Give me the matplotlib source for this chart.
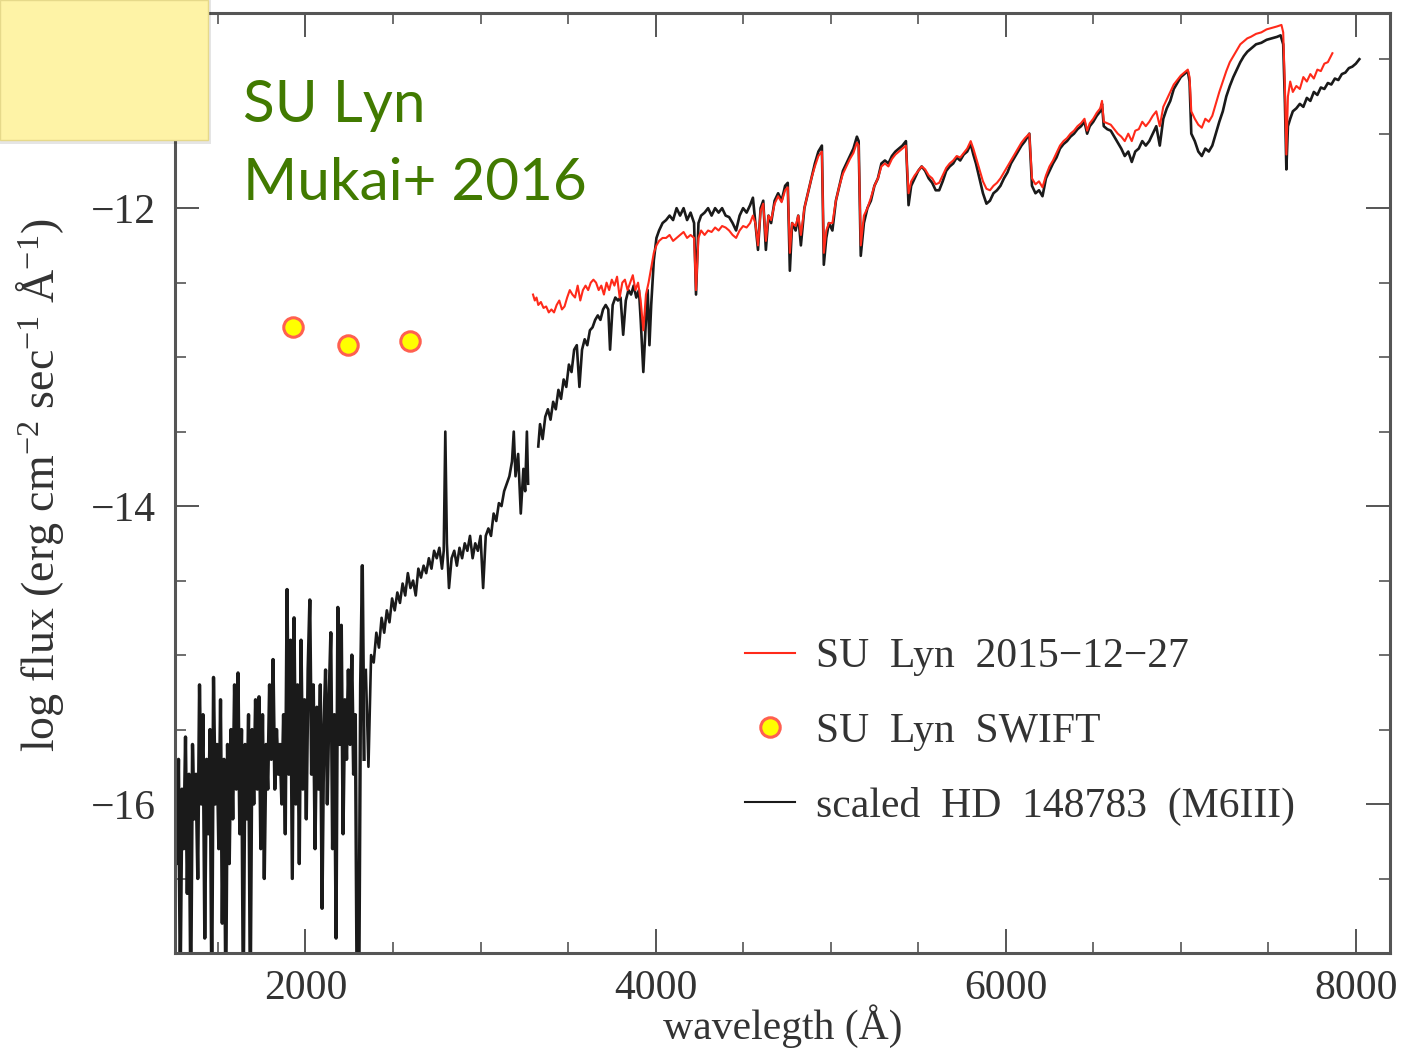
import numpy as np
import matplotlib
matplotlib.use("Agg")
import matplotlib.pyplot as plt
from matplotlib.patches import Rectangle
from matplotlib.lines import Line2D
from matplotlib.ticker import MultipleLocator

plt.rcParams['font.family'] = ['Liberation Serif', 'DejaVu Serif']
plt.rcParams['mathtext.fontset'] = 'custom'
plt.rcParams['mathtext.rm'] = 'Liberation Serif'
plt.rcParams['mathtext.it'] = 'Liberation Serif'

# --- data -------------------------------------------------------------
# HD 148783 template, noisy UV part (evenly sampled 1255-2335 A)
uv_flux = [
    -15.6, -16.4, -15.7, -17.2, -15.9, -16.3, -15.55, -16.6, -15.8, -17.3,
    -15.6, -16.1, -15.8, -16.5, -15.2, -16.0, -15.4, -16.9, -15.7, -16.2,
    -15.5, -17.3, -15.15, -16.0, -15.6, -16.3, -15.3, -16.8, -15.7, -17.3,
    -15.6, -16.4, -15.5, -16.1, -15.2, -15.9, -15.12, -16.2, -15.5, -17.3,
    -15.6, -16.1, -15.4, -17.3, -15.5, -16.0, -15.3, -15.9, -15.28, -16.3,
    -15.4, -16.5, -15.6, -15.9, -15.2, -15.7, -15.03, -15.9, -15.5, -15.8,
    -15.6, -16.0, -15.4, -16.2, -14.56, -15.8, -14.9, -16.5, -14.75, -16.0,
    -15.2, -16.4, -14.9, -15.9, -15.3, -16.1, -15.1, -14.63, -15.8, -15.2,
    -16.3, -15.35, -15.9, -15.2, -16.7, -15.5, -15.1, -16.0, -15.3, -14.85,
    -16.3, -15.4, -16.9, -14.68, -15.6, -14.8, -16.2, -15.3, -15.7, -15.1,
    -15.6, -15.0, -15.8, -15.4, -17.3, -17.3, -15.2, -14.4, -15.7,
]
uv_wave = np.linspace(1255, 2335, len(uv_flux))

# HD 148783 template, optical part (wavelength, log flux); nan marks a gap
star_pts = [
    (2345, -15.1), (2360, -15.75), (2375, -15.0), (2390, -15.05), (2405, -14.85),
    (2420, -14.95), (2435, -14.75), (2450, -14.85), (2465, -14.7), (2480, -14.78),
    (2495, -14.62), (2510, -14.7), (2525, -14.58), (2540, -14.65), (2555, -14.52),
    (2570, -14.6), (2585, -14.45), (2600, -14.55), (2615, -14.5), (2630, -14.6),
    (2645, -14.42), (2660, -14.48), (2675, -14.4), (2690, -14.45), (2705, -14.35),
    (2720, -14.42), (2735, -14.3), (2750, -14.35), (2765, -14.28), (2780, -14.42),
    (2790, -14.3), (2799, -13.5), (2808, -14.25), (2820, -14.55), (2835, -14.35),
    (2850, -14.3), (2865, -14.4), (2880, -14.28), (2895, -14.35), (2910, -14.25),
    (2925, -14.3), (2940, -14.2), (2955, -14.35), (2970, -14.25), (2985, -14.3),
    (3000, -14.2), (3015, -14.55), (3030, -14.2), (3045, -14.15), (3060, -14.2),
    (3075, -14.05), (3090, -14.1), (3105, -13.98), (3120, -14.0), (3135, -13.9),
    (3150, -13.85), (3165, -13.8), (3180, -13.7), (3190, -13.5), (3200, -13.8),
    (3215, -13.65), (3230, -14.05), (3245, -13.75), (3255, -13.9), (3265, -13.5),
    (3272, -13.85), (3300, np.nan),
    (3330, -13.6), (3340, -13.45), (3355, -13.55), (3370, -13.4), (3385, -13.35),
    (3400, -13.42), (3415, -13.3), (3430, -13.35), (3445, -13.22), (3460, -13.28),
    (3475, -13.15), (3490, -13.2), (3505, -13.05), (3520, -13.1), (3535, -12.95),
    (3550, -12.92), (3565, -13.2), (3580, -12.95), (3595, -12.88), (3610, -12.92),
    (3625, -12.82), (3640, -12.8), (3655, -12.75), (3670, -12.72), (3685, -12.75),
    (3700, -12.68), (3715, -12.65), (3730, -12.68), (3740, -12.95), (3755, -12.65),
    (3770, -12.6), (3785, -12.62), (3800, -12.6), (3815, -12.85), (3830, -12.62),
    (3845, -12.55), (3860, -12.58), (3875, -12.52), (3890, -12.6), (3905, -12.55),
    (3915, -12.75), (3930, -13.1), (3945, -12.75), (3955, -12.55), (3965, -12.92),
    (3975, -12.65), (3990, -12.35), (4005, -12.2), (4020, -12.15), (4040, -12.1),
    (4060, -12.08), (4080, -12.05), (4100, -12.08), (4120, -12.0), (4140, -12.05),
    (4160, -12.0), (4180, -12.08), (4200, -12.03), (4220, -12.1), (4231, -12.58),
    (4245, -12.1), (4260, -12.05), (4280, -12.03), (4300, -12.0), (4320, -12.05),
    (4340, -12.0), (4360, -12.03), (4380, -12.0), (4400, -12.05), (4420, -12.06),
    (4440, -12.1), (4460, -12.15), (4480, -12.05), (4500, -12.0), (4520, -12.03),
    (4540, -11.98), (4556, -11.93), (4570, -12.1), (4585, -12.28), (4600, -12.0),
    (4615, -11.95), (4630, -12.28), (4645, -12.05), (4660, -12.1), (4680, -11.95),
    (4700, -11.9), (4720, -11.95), (4740, -11.85), (4755, -11.83), (4767, -12.42),
    (4780, -12.1), (4800, -12.15), (4815, -12.05), (4830, -12.25), (4850, -12.0),
    (4870, -11.9), (4890, -11.8), (4910, -11.7), (4930, -11.62), (4950, -11.58),
    (4961, -12.38), (4975, -12.2), (4990, -12.1), (5010, -12.15), (5030, -11.95),
    (5050, -11.85), (5070, -11.75), (5090, -11.7), (5110, -11.65), (5130, -11.6),
    (5150, -11.52), (5160, -11.55), (5172, -12.32), (5190, -12.1), (5210, -12.0),
    (5230, -11.95), (5250, -11.85), (5270, -11.8), (5290, -11.7), (5310, -11.68),
    (5330, -11.7), (5350, -11.65), (5370, -11.62), (5390, -11.6), (5410, -11.58),
    (5430, -11.55), (5445, -11.98), (5460, -11.85), (5480, -11.8), (5500, -11.75),
    (5520, -11.72), (5540, -11.75), (5560, -11.8), (5580, -11.83), (5600, -11.88),
    (5620, -11.88), (5640, -11.82), (5660, -11.75), (5680, -11.72), (5700, -11.7),
    (5720, -11.66), (5740, -11.68), (5760, -11.64), (5780, -11.62), (5800, -11.57),
    (5815, -11.64), (5830, -11.7), (5850, -11.8), (5870, -11.9), (5890, -11.97),
    (5910, -11.95), (5930, -11.9), (5950, -11.88), (5970, -11.85), (5990, -11.8),
    (6010, -11.76), (6030, -11.7), (6050, -11.66), (6070, -11.62), (6090, -11.58),
    (6110, -11.55), (6135, -11.5), (6150, -11.85), (6170, -11.9), (6190, -11.88),
    (6210, -11.92), (6230, -11.8), (6250, -11.75), (6270, -11.7), (6290, -11.66),
    (6310, -11.6), (6330, -11.57), (6350, -11.55), (6370, -11.52), (6390, -11.5),
    (6410, -11.47), (6430, -11.45), (6450, -11.42), (6465, -11.5), (6480, -11.45),
    (6500, -11.42), (6520, -11.38), (6540, -11.35), (6550, -11.3), (6560, -11.45),
    (6580, -11.47), (6600, -11.48), (6620, -11.52), (6640, -11.56), (6660, -11.6),
    (6680, -11.65), (6700, -11.62), (6720, -11.69), (6740, -11.62), (6760, -11.6),
    (6780, -11.55), (6800, -11.58), (6820, -11.55), (6840, -11.5), (6860, -11.45),
    (6880, -11.58), (6900, -11.4), (6920, -11.33), (6940, -11.28), (6960, -11.2),
    (6980, -11.16), (7000, -11.12), (7020, -11.1), (7040, -11.08), (7050, -11.15),
    (7060, -11.5), (7080, -11.55), (7100, -11.62), (7120, -11.65), (7140, -11.6),
    (7160, -11.62), (7180, -11.58), (7200, -11.5), (7220, -11.42), (7240, -11.35),
    (7260, -11.25), (7280, -11.18), (7300, -11.12), (7320, -11.07), (7340, -11.02),
    (7360, -10.98), (7380, -10.95), (7400, -10.93), (7430, -10.9), (7460, -10.89),
    (7490, -10.87), (7520, -10.86), (7550, -10.85), (7570, -10.84), (7585, -10.9),
    (7595, -11.3), (7603, -11.74), (7612, -11.45), (7625, -11.4), (7640, -11.35),
    (7660, -11.33), (7680, -11.3), (7700, -11.32), (7720, -11.26), (7740, -11.28),
    (7760, -11.22), (7780, -11.24), (7800, -11.19), (7820, -11.2), (7840, -11.16),
    (7860, -11.17), (7880, -11.13), (7900, -11.14), (7920, -11.1), (7940, -11.09),
    (7960, -11.06), (7980, -11.05), (8000, -11.03), (8020, -11.0),
]

# SU Lyn optical spectrum 2015-12-27
sulyn_pts = [
    (3300, -12.58), (3310, -12.62), (3320, -12.6), (3330, -12.65), (3345, -12.63),
    (3360, -12.67), (3375, -12.66), (3390, -12.7), (3405, -12.68), (3420, -12.7),
    (3435, -12.65), (3450, -12.62), (3465, -12.68), (3480, -12.66), (3495, -12.6),
    (3510, -12.55), (3525, -12.58), (3540, -12.6), (3555, -12.52), (3570, -12.62),
    (3585, -12.55), (3600, -12.52), (3615, -12.55), (3630, -12.5), (3645, -12.48),
    (3660, -12.5), (3675, -12.55), (3690, -12.52), (3705, -12.58), (3720, -12.5),
    (3735, -12.55), (3750, -12.48), (3765, -12.52), (3780, -12.46), (3795, -12.6),
    (3810, -12.5), (3825, -12.48), (3840, -12.55), (3855, -12.5), (3870, -12.45),
    (3885, -12.55), (3900, -12.5), (3915, -12.62), (3930, -12.82), (3945, -12.58),
    (3960, -12.5), (3975, -12.4), (3990, -12.3), (4005, -12.25), (4020, -12.22),
    (4040, -12.2), (4060, -12.2), (4080, -12.18), (4100, -12.22), (4120, -12.2),
    (4140, -12.18), (4160, -12.16), (4180, -12.2), (4200, -12.18), (4220, -12.2),
    (4231, -12.55), (4245, -12.2), (4260, -12.15), (4280, -12.18), (4300, -12.15),
    (4320, -12.16), (4340, -12.13), (4360, -12.15), (4380, -12.12), (4400, -12.13),
    (4420, -12.15), (4440, -12.18), (4460, -12.2), (4480, -12.15), (4500, -12.12),
    (4520, -12.13), (4540, -12.1), (4556, -12.05), (4570, -12.1), (4585, -12.25),
    (4600, -12.02), (4615, -11.97), (4630, -12.22), (4645, -12.05), (4660, -12.08),
    (4680, -11.97), (4700, -11.92), (4720, -11.96), (4740, -11.88), (4755, -11.86),
    (4767, -12.3), (4780, -12.1), (4800, -12.12), (4815, -12.05), (4830, -12.18),
    (4850, -12.0), (4870, -11.9), (4890, -11.8), (4910, -11.72), (4930, -11.65),
    (4950, -11.62), (4961, -12.3), (4975, -12.15), (4990, -12.1), (5010, -12.1),
    (5030, -11.95), (5050, -11.85), (5070, -11.77), (5090, -11.72), (5110, -11.67),
    (5130, -11.63), (5150, -11.56), (5160, -11.58), (5172, -12.25), (5190, -12.05),
    (5210, -12.0), (5230, -11.93), (5250, -11.85), (5270, -11.8), (5290, -11.72),
    (5310, -11.7), (5330, -11.72), (5350, -11.67), (5370, -11.64), (5390, -11.62),
    (5410, -11.6), (5430, -11.58), (5445, -11.9), (5460, -11.82), (5480, -11.78),
    (5500, -11.75), (5520, -11.72), (5540, -11.74), (5560, -11.78), (5580, -11.8),
    (5600, -11.84), (5620, -11.83), (5640, -11.78), (5660, -11.73), (5680, -11.7),
    (5700, -11.68), (5720, -11.65), (5740, -11.66), (5760, -11.63), (5780, -11.6),
    (5800, -11.55), (5815, -11.6), (5830, -11.66), (5850, -11.74), (5870, -11.82),
    (5890, -11.87), (5910, -11.88), (5930, -11.85), (5950, -11.83), (5970, -11.8),
    (5990, -11.76), (6010, -11.72), (6030, -11.68), (6050, -11.64), (6070, -11.6),
    (6090, -11.56), (6110, -11.53), (6135, -11.5), (6150, -11.8), (6170, -11.84),
    (6190, -11.82), (6210, -11.86), (6230, -11.78), (6250, -11.72), (6270, -11.68),
    (6290, -11.63), (6310, -11.58), (6330, -11.55), (6350, -11.53), (6370, -11.5),
    (6390, -11.48), (6410, -11.45), (6430, -11.43), (6450, -11.4), (6465, -11.48),
    (6480, -11.43), (6500, -11.4), (6520, -11.36), (6540, -11.33), (6550, -11.28),
    (6560, -11.42), (6580, -11.43), (6600, -11.44), (6620, -11.47), (6640, -11.5),
    (6660, -11.52), (6680, -11.55), (6700, -11.5), (6720, -11.55), (6740, -11.48),
    (6760, -11.47), (6780, -11.42), (6800, -11.45), (6820, -11.42), (6840, -11.38),
    (6860, -11.35), (6880, -11.45), (6900, -11.32), (6920, -11.27), (6940, -11.22),
    (6960, -11.17), (6980, -11.14), (7000, -11.11), (7020, -11.09), (7040, -11.07),
    (7050, -11.12), (7060, -11.35), (7080, -11.4), (7100, -11.44), (7120, -11.46),
    (7140, -11.4), (7160, -11.42), (7180, -11.38), (7200, -11.3), (7220, -11.22),
    (7240, -11.15), (7260, -11.08), (7280, -11.02), (7300, -10.98), (7320, -10.94),
    (7340, -10.9), (7360, -10.88), (7380, -10.86), (7400, -10.85), (7430, -10.83),
    (7460, -10.82), (7490, -10.8), (7520, -10.79), (7550, -10.78), (7575, -10.77),
    (7585, -10.82), (7595, -11.2), (7603, -11.64), (7612, -11.25), (7625, -11.15),
    (7640, -11.22), (7660, -11.18), (7680, -11.2), (7700, -11.12), (7720, -11.15),
    (7740, -11.1), (7760, -11.13), (7780, -11.07), (7800, -11.08), (7820, -11.03),
    (7840, -11.02), (7866, -10.96),
]

# SWIFT UVOT photometry
swift_wave = [1928, 2246, 2600]
swift_flux = [-12.80, -12.92, -12.89]

# --- plot -------------------------------------------------------------
fig = plt.figure(figsize=(14.27, 10.49), dpi=100)
ax = fig.add_axes([175 / 1427, 1 - 953 / 1049, 1215 / 1427, 940 / 1049])

star_w, star_f = np.array(star_pts).T
sulyn_w, sulyn_f = np.array(sulyn_pts).T

ax.plot(uv_wave, uv_flux, color='#1a1a1a', lw=2.4)
ax.plot(star_w, star_f, color='#1a1a1a', lw=1.9)
ax.plot(sulyn_w, sulyn_f, color='#ff2a1a', lw=1.5)
ax.plot(swift_wave, swift_flux, 'o', ms=14, mfc='#ffff00', mec='#ff6050', mew=2.2,
        linestyle='None')

ax.set_xlim(1255, 8195)
ax.set_ylim(-17, -10.69)
ax.xaxis.set_major_locator(MultipleLocator(2000))
ax.xaxis.set_minor_locator(MultipleLocator(500))
ax.yaxis.set_major_locator(MultipleLocator(2))
ax.yaxis.set_minor_locator(MultipleLocator(0.5))
ax.tick_params(which='both', direction='in', top=True, right=True,
               color='#555555', labelcolor='#333333', labelsize=30)
ax.tick_params(which='major', length=17, width=1.4)
ax.tick_params(which='minor', length=8, width=1.2)
ax.tick_params(axis='x', pad=12)
ax.tick_params(axis='y', pad=14)
for sp in ax.spines.values():
    sp.set_color('#555555')
    sp.set_linewidth(2.2)

ax.set_xlabel('wavelegth (Å)', fontsize=30, color='#333333', va='center')
ax.xaxis.set_label_coords(0.5, -(1026 - 953) / 940)
ax.set_ylabel(r'log flux (erg cm$^{-2}$ sec$^{-1}$ Å$^{-1}$)', fontsize=33,
              color='#333333', va='center')
ax.yaxis.set_label_coords(-(175 - 40) / 1215, (953 - 485) / 940)

handles = [
    Line2D([], [], color='#ff2a1a', lw=1.5),
    Line2D([], [], marker='o', ms=14, mfc='#ffff00', mec='#ff6050', mew=2.2,
           linestyle='None'),
    Line2D([], [], color='#1a1a1a', lw=1.5),
]
labels = ['SU  Lyn  2015−12−27', 'SU  Lyn  SWIFT', 'scaled  HD  148783  (M6III)']
ax.legend(handles, labels, loc='upper left',
          bbox_to_anchor=((745 - 175) / 1215, (953 - 638) / 940),
          frameon=False, fontsize=30, handlelength=1.2, handletextpad=0.5,
          labelspacing=0.86, borderpad=0, borderaxespad=0, labelcolor='#333333')

# sticky note in the corner
fig.patches.append(Rectangle((0, 1 - 144 / 1049), 211 / 1427, 144 / 1049,
                             transform=fig.transFigure, facecolor='#000000',
                             alpha=0.10, edgecolor='none', zorder=9))
fig.patches.append(Rectangle((0, 1 - 140 / 1049), 208 / 1427, 140 / 1049,
                             transform=fig.transFigure, facecolor='#fef3a6',
                             edgecolor='#e6d98a', lw=1, zorder=10))

fig.text(243 / 1427, 1 - 122 / 1049, 'SU Lyn', fontsize=42, family='Lato',
         color='#417a00', va='baseline', zorder=11)
fig.text(243 / 1427, 1 - 200 / 1049, 'Mukai+ 2016', fontsize=42, family='Lato',
         color='#417a00', va='baseline', zorder=11)

fig.savefig('out.png', dpi=100)
